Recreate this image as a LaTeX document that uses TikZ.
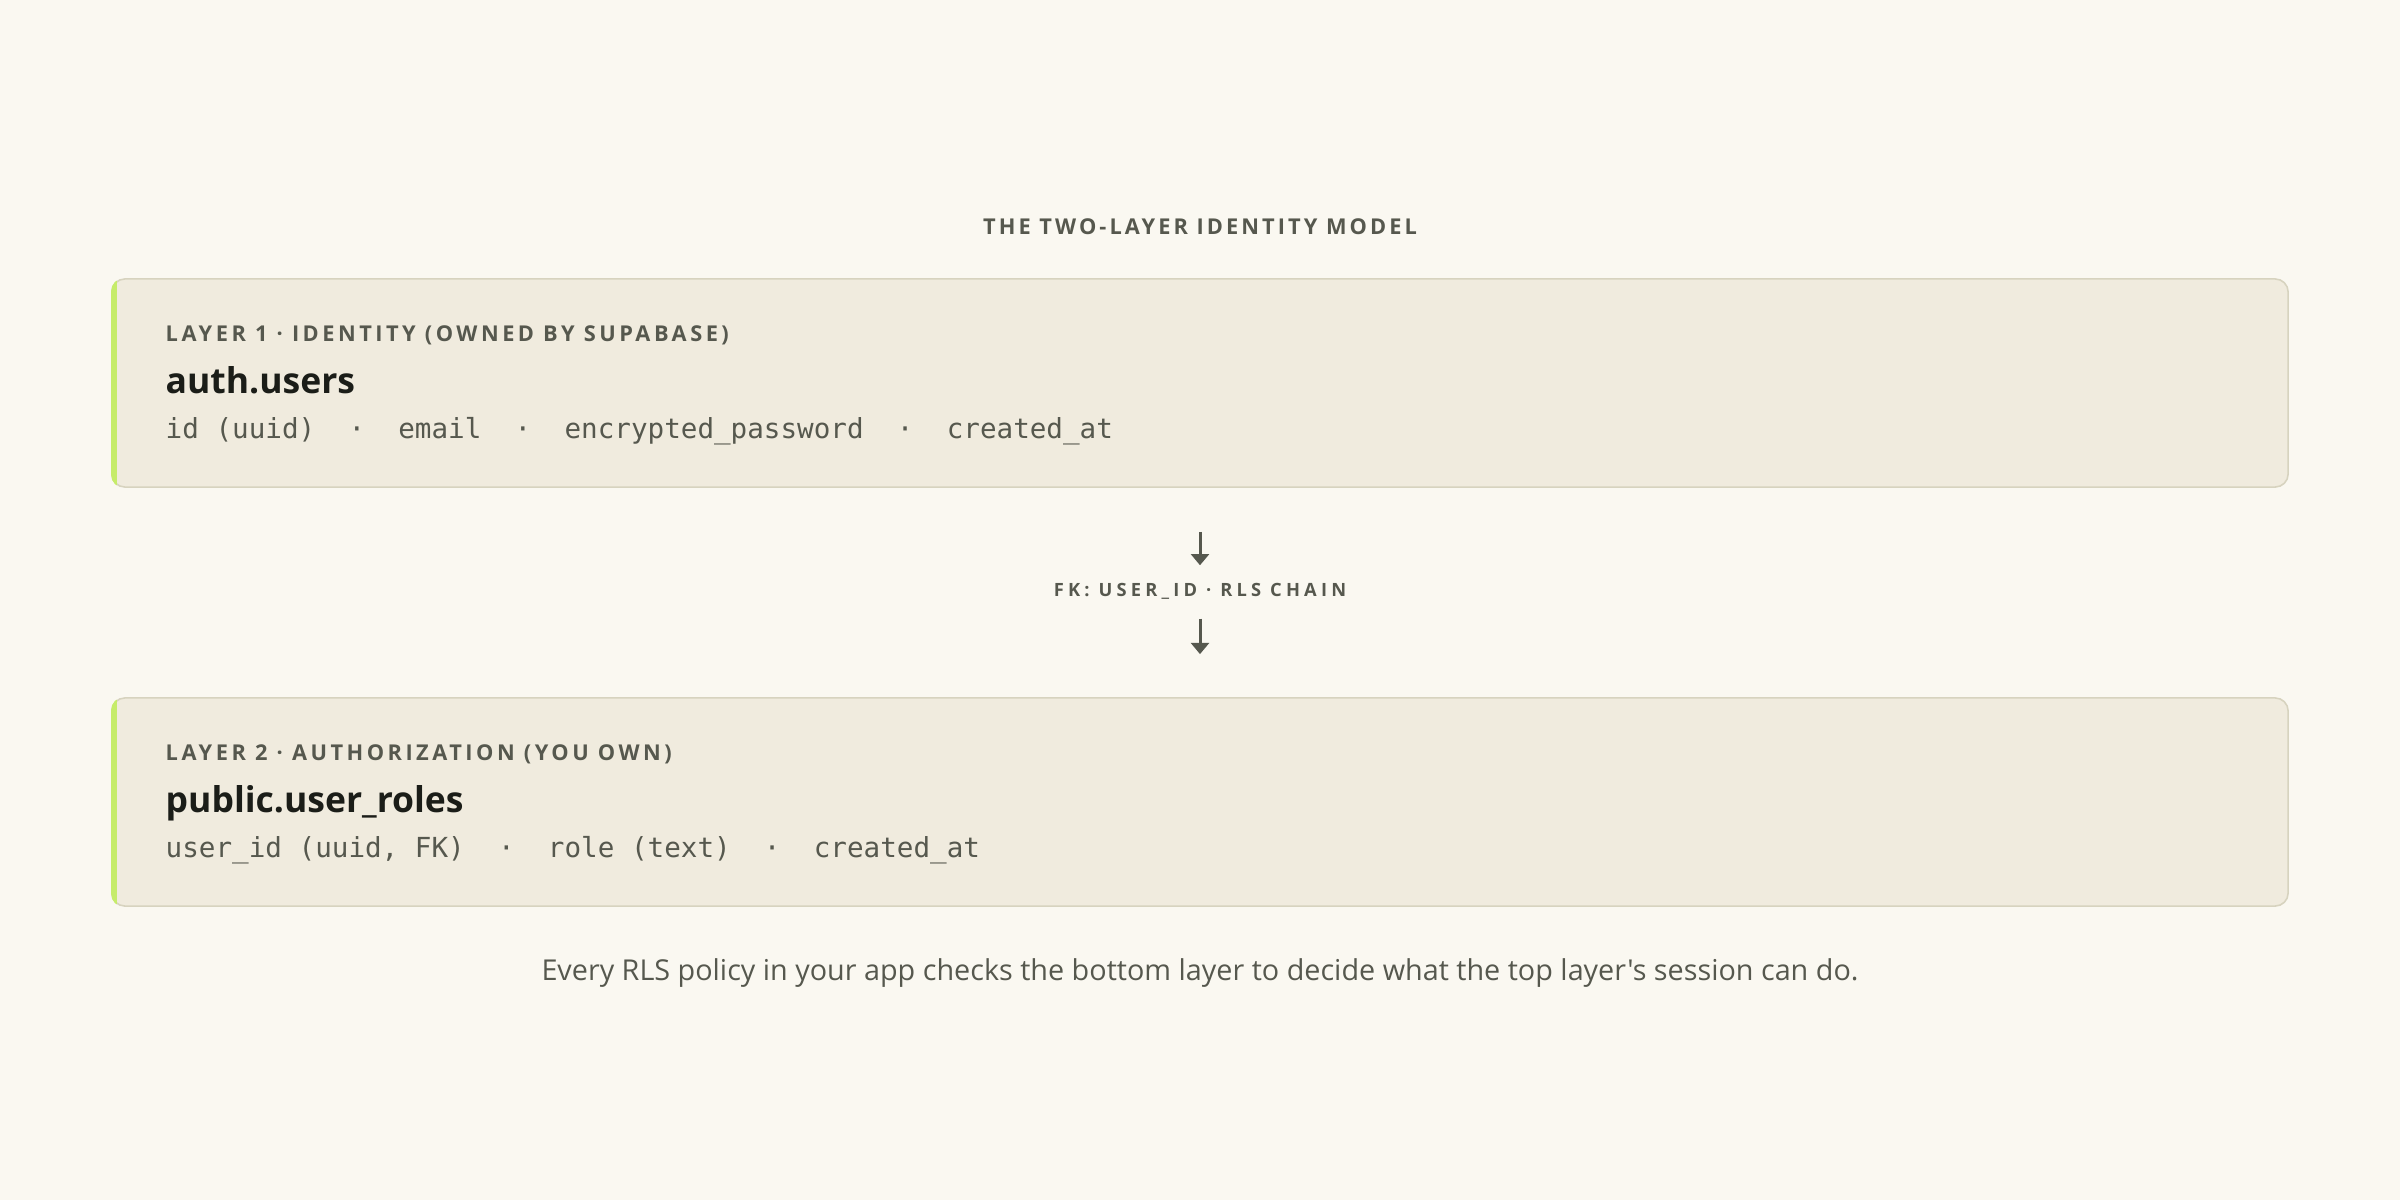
\documentclass[tikz,border=0pt]{standalone}
\usepackage{fontspec}
\setmainfont{Open Sans}
\setmonofont{DejaVu Sans Mono}
\newfontfamily\capsfont[LetterSpace=14]{Open Sans}
\newfontfamily\tagfont[LetterSpace=16]{Open Sans}
\newfontfamily\chainfont[LetterSpace=23]{Open Sans}
\newfontfamily\notefont[Ligatures=TeXOff]{Open Sans}
\usetikzlibrary{arrows.meta,positioning}

\definecolor{pagebg}{HTML}{FAF8F1}
\definecolor{cardfill}{HTML}{F0EBDE}
\definecolor{cardline}{HTML}{D7D3BF}
\definecolor{accent}{HTML}{C6EC6A}
\definecolor{ink}{HTML}{1B1D18}
\definecolor{muted}{HTML}{56584E}

\tikzset{
  layerbox/.style={draw=cardline, fill=cardfill, line width=0.45pt,
    rounded corners=0.13cm, minimum width=21.75cm, minimum height=2.08cm, inner sep=0pt},
  heading/.style={text=muted, inner sep=0pt, font=\capsfont\bfseries\fontsize{6.2pt}{7pt}\selectfont},
  tag/.style={text=muted, inner sep=0pt, anchor=base west, font=\tagfont\bfseries\fontsize{6.2pt}{7pt}\selectfont},
  tablename/.style={text=ink, inner sep=0pt, anchor=base west, font=\bfseries\fontsize{10.1pt}{11pt}\selectfont},
  fields/.style={text=muted, inner sep=0pt, anchor=base west, font=\ttfamily\fontsize{7.85pt}{9pt}\selectfont},
  chain/.style={text=muted, inner sep=0pt, text height=3.7pt, text depth=0pt, font=\chainfont\bfseries\fontsize{5.2pt}{6pt}\selectfont},
  flow/.style={-{Triangle[width=5.1pt,length=3.2pt]}, draw=muted, line width=0.85pt},
  caption/.style={text=muted, inner sep=0pt, font=\notefont\fontsize{8.18pt}{9pt}\selectfont}
}

\begin{document}
\begin{tikzpicture}[x=0.01cm, y=-0.01cm]
  % page
  \fill[pagebg] (0,0) rectangle (2400,1200);
  \useasboundingbox (0,0) rectangle (2400,1200);

  % --- title ---
  \node[heading, anchor=base] (title) at (1200,234) {THE TWO-LAYER IDENTITY MODEL};

  % --- the two layer cards ---
  \node[layerbox] (layer1) at (1200,383) {};
  \node[layerbox] (layer2) at (1200,802) {};

  % lime accent on the left edge of each card
  \foreach \card in {layer1,layer2}{
    \begin{scope}
      \clip[rounded corners=0.13cm] (\card.south west) rectangle (\card.north east);
      \fill[accent] ([xshift=-0.02cm]\card.south west) rectangle ([xshift=0.055cm]\card.north west);
    \end{scope}
  }

  % layer 1: identity
  \node[tag] (tag1) at (165,341) {LAYER 1 · IDENTITY (OWNED BY SUPABASE)};
  \node[tablename] (name1) at (165,393) {auth.users};
  \node[fields] (cols1) at (165,438) {id (uuid)~~·~~email~~·~~encrypted\_password~~·~~created\_at};

  % layer 2: authorization
  \node[tag] (tag2) at (165,760) {LAYER 2 · AUTHORIZATION (YOU OWN)};
  \node[tablename] (name2) at (165,812) {public.user\_roles};
  \node[fields] (cols2) at (165,857) {user\_id (uuid, FK)~~·~~role (text)~~·~~created\_at};

  % --- link between the layers ---
  \node[chain, anchor=base] (fk) at (1200,596) {FK: USER\_ID · RLS CHAIN};
  \draw[flow, shorten <=0.44cm, shorten >=0.17cm] (layer1.south) -- (fk.north);
  \draw[flow, shorten <=0.22cm, shorten >=0.43cm] (fk.south) -- (layer2.north);

  % --- caption ---
  \node[caption, anchor=base] (note) at (1200,980) {Every RLS policy in your app checks the bottom layer to decide what the top layer's session can do.};
\end{tikzpicture}
\end{document}
